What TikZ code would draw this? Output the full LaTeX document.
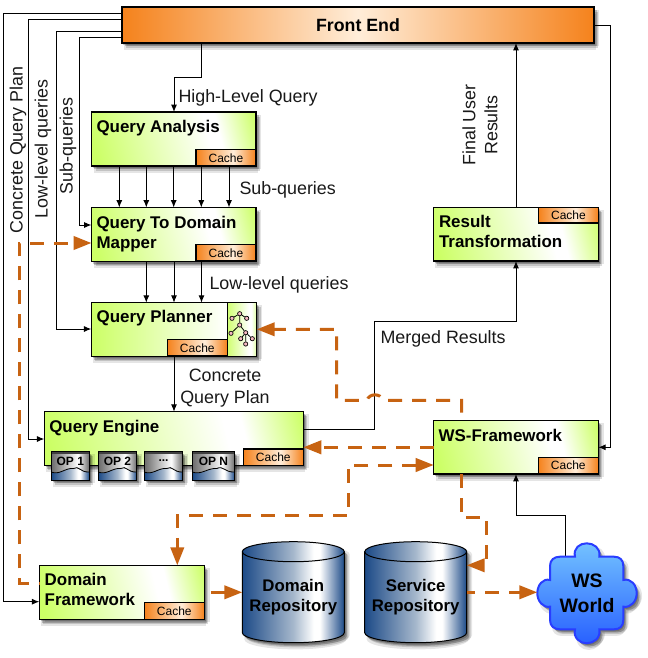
\documentclass[tikz,border=0pt]{standalone}
\usepackage{fontspec}
\setmainfont{Liberation Sans}
\usetikzlibrary{arrows.meta,shadows}

\definecolor{limecol}{rgb}{0.80,1,0.40}
\definecolor{orangecol}{rgb}{0.96,0.51,0.11}
\definecolor{palecol}{rgb}{1,0.93,0.85}
\definecolor{flowcol}{rgb}{0.78,0.39,0.07}
\definecolor{steeldark}{rgb}{0.11,0.29,0.53}
\definecolor{steelmid}{rgb}{0.65,0.72,0.80}
\definecolor{opgrey}{rgb}{0.42,0.42,0.42}
\definecolor{cloudtop}{rgb}{0.45,0.76,1}
\definecolor{cloudbot}{rgb}{0.16,0.38,1}
\definecolor{cloudline}{rgb}{0.16,0.24,1}
\definecolor{treepink}{rgb}{0.96,0.72,0.76}
\newcommand{\opdots}{.{}.{}.}

\pgfdeclarehorizontalshading{limeshade}{100bp}{color(0bp)=(limecol); color(22bp)=(limecol); color(62bp)=(white); color(66bp)=(white); color(80bp)=(limecol); color(100bp)=(limecol)}
\pgfdeclarehorizontalshading{frontshade}{100bp}{color(0bp)=(orangecol); color(25bp)=(orangecol); color(50bp)=(palecol); color(75bp)=(orangecol); color(100bp)=(orangecol)}
\pgfdeclarehorizontalshading{cacheshade}{100bp}{color(0bp)=(orangecol); color(25bp)=(orangecol); color(56bp)=(palecol); color(75bp)=(orangecol); color(100bp)=(orangecol)}
\pgfdeclarehorizontalshading{steelshade}{100bp}{color(0bp)=(steeldark); color(25bp)=(steeldark); color(50bp)=(steelmid); color(60bp)=(white); color(63bp)=(white); color(75bp)=(steeldark); color(100bp)=(steeldark)}
\pgfdeclarehorizontalshading{opshade}{100bp}{color(0bp)=(opgrey); color(25bp)=(opgrey); color(60bp)=(white); color(75bp)=(opgrey); color(100bp)=(opgrey)}

\tikzset{every picture/.style={line width=0.75pt},
  softshadow/.style={
    general shadow={shadow xshift=1pt,shadow yshift=-1.5pt,opacity=0.2,fill=black},
    general shadow={shadow xshift=2pt,shadow yshift=-2.5pt,opacity=0.2,fill=black},
    general shadow={shadow xshift=3pt,shadow yshift=-3.5pt,opacity=0.15,fill=black},
    general shadow={shadow xshift=1.5pt,shadow yshift=-5pt,opacity=0.1,fill=black},
    general shadow={shadow xshift=4pt,shadow yshift=-2pt,opacity=0.1,fill=black}},
  sz/.style 2 args={minimum width=#1*0.75pt,minimum height=#2*0.75pt},
  limebox/.style={draw=black,line width=0.9pt,anchor=north west,inner sep=0pt,outer sep=0pt,shade,shading=limeshade,shading angle=14,softshadow},
  cachebox/.style={draw=black,line width=0.9pt,anchor=north west,inner sep=0pt,outer sep=0pt,shade,shading=cacheshade,font=\fontsize{9}{11}\selectfont,sz={60}{16.5}},
  frontbox/.style={draw=black,line width=0.9pt,anchor=north west,inner sep=0pt,outer sep=0pt,shade,shading=frontshade,font=\fontsize{13.3}{16}\selectfont\bfseries,softshadow},
  titletext/.style={anchor=base west,inner sep=0pt,outer sep=0pt,align=left,font=\fontsize{12.7}{15}\selectfont\bfseries},
  labeltext/.style={inner sep=0pt,align=center,font=\fontsize{13.4}{16.5}\selectfont,text=black!90},
  thinflow/.style={draw=black,line width=0.75pt,-{Latex[length=5.5pt,width=4.5pt]}},
  dashflow/.style={draw=flowcol,line width=2.25pt,dash pattern=on 10.5pt off 7.5pt},
  flowtip/.style={dashflow,-{Triangle[length=13.5pt,width=10pt]}},
  flowboth/.style={dashflow,{Triangle[length=13.5pt,width=10pt]}-{Triangle[length=13.5pt,width=10pt]}},
  repobody/.style={draw=black,line width=0.75pt,shade,shading=steelshade,softshadow},
  repotext/.style={inner sep=0pt,outer sep=0pt,align=center,font=\fontsize{12.6}{15}\selectfont\bfseries,sz={102}{90}},
  opbox/.style={draw=black,line width=0.75pt,anchor=north west,inner sep=0pt,outer sep=0pt,shade,shading=steelshade,softshadow},
  optext/.style={inner sep=0pt,font=\fontsize{9}{11}\selectfont\bfseries},
  treedot/.style={circle,draw=black,line width=0.5pt,fill=treepink,inner sep=0pt,minimum size=3.2pt}
}

\begin{document}
\begin{tikzpicture}[x=0.75pt,y=0.75pt,yscale=-1,xscale=1]
\useasboundingbox (0,0) rectangle (648,658);

%Shape: Front End
\node (front) [frontbox,sz={472}{36}] at (122,7) {Front End};

%Shape: Query Analysis
\node (analysis) [limebox,sz={164.5}{54}] at (91.5,112) {};
\node (analysisC) [cachebox] at (196,149.5) {Cache};
\node (analysisT) [titletext] at (96.5,132.7) {Query Analysis};

%Shape: Query To Domain Mapper
\node (mapper) [limebox,sz={164.5}{54}] at (91.5,207.5) {};
\node (mapperC) [cachebox] at (196,244.5) {Cache};
\node (mapperT) [titletext] at (96.5,248.3) {Query To Domain\\Mapper};

%Shape: Query Planner
\node (planner) [draw=black,line width=0.9pt,anchor=north west,inner sep=0pt,outer sep=0pt,left color=limecol,right color=white,softshadow,sz={136}{53.5}] at (91.3,302.7) {};
\node (plannerP) [limebox,shading angle=0,sz={29.4}{53.5}] at (227.3,302.7) {};
\node (plannerC) [cachebox] at (167.3,339.5) {Cache};
\node (plannerT) [titletext] at (96.7,322.7) {Query Planner};

%Shape: tree icon
\node (leafA) [treedot] at (239.7,313.7) {};
\node (leafB) [treedot] at (232,318.3) {};
\node (leafC) [treedot] at (246.7,318.3) {};
\node (leafD) [treedot] at (239.7,325) {};
\node (leafE) [treedot] at (231,333.3) {};
\node (leafF) [treedot] at (245.7,332.7) {};
\node (leafG) [treedot] at (240.7,338.7) {};
\node (leafH) [treedot] at (252.3,338.7) {};
\node (leafI) [treedot] at (245.7,344) {};
\draw [line width=0.6pt] (leafA) -- (leafB) (leafA) -- (leafC) (leafA) -- (leafD) (leafD) -- (leafE) (leafD) -- (leafF) (leafF) -- (leafG) (leafF) -- (leafH) (leafF) -- (leafI);

%Shape: Query Engine
\node (engine) [limebox,sz={259}{53.5}] at (44.3,411.7) {};
\node (engineC) [cachebox,sz={60}{16.5}] at (243.3,449) {Cache};
\node (engineT) [titletext] at (49.3,432.7) {Query Engine};

%Shape: operator boxes
\foreach \n/\x/\w/\t in {A/51.3/38/OP 1,B/98.3/38.4/OP 2,C/144.3/38.4/\opdots,D/192.3/42.4/OP N}{
  \node (op\n) [opbox,sz={\w}{28.3}] at (\x,451.7) {};
  \fill [shading=opshade,shade] (\x,452.5) -- ++(\w,0) -- ++(0,19.5) .. controls +(-0.25*\w,0.5) and +(0.15*\w,-3) .. ++(-0.42*\w,-3.5) .. controls +(-0.2*\w,-1) and +(0.2*\w,3.5) .. (\x,472) -- cycle;
  \draw [line width=0.6pt] (\x+\w,472) .. controls +(-0.25*\w,0.5) and +(0.15*\w,-3.5) .. (\x+0.58*\w,468.5) .. controls +(-0.2*\w,-1) and +(0.2*\w,3.5) .. (\x,472);
  \fill [black!75] (\x,451.7) rectangle (\x+\w,454);
  \node (opT\n) [optext] at (\x+0.5*\w,461) {\t};
  \draw [line width=0.75pt] (op\n.north west) rectangle (op\n.south east);
}

%Shape: WS-Framework
\node (wsf) [limebox,sz={164.6}{53.3}] at (433.7,420.7) {};
\node (wsfC) [cachebox] at (538.3,457.4) {Cache};
\node (wsfT) [titletext] at (438.7,441.7) {WS-Framework};

%Shape: Result Transformation
\node (result) [limebox,sz={165}{53.7}] at (433.3,207.3) {};
\node (resultC) [cachebox,sz={59.6}{15.7}] at (538.7,207.3) {Cache};
\node (resultT) [titletext] at (439,247.7) {Result\\Transformation};

%Shape: Domain Framework
\node (domain) [limebox,sz={165}{54}] at (39.3,565.3) {};
\node (domainC) [cachebox] at (144.3,602.6) {Cache};
\node (domainT) [titletext] at (44.7,605.5) {Domain\\Framework};

%Shape: Repositories
\path [repobody] (242.3,551.7) arc[start angle=180,end angle=360,x radius=51,y radius=10] -- (344.3,632.7) arc[start angle=0,end angle=180,x radius=51,y radius=10] -- cycle;
\draw (242.3,551.7) arc[start angle=180,end angle=0,x radius=51,y radius=10];
\node (drepo) [repotext] at (293.3,597) {Domain\\Repository};
\path [repobody] (364.7,551.7) arc[start angle=180,end angle=360,x radius=51,y radius=10] -- (466.7,632.7) arc[start angle=0,end angle=180,x radius=51,y radius=10] -- cycle;
\draw (364.7,551.7) arc[start angle=180,end angle=0,x radius=51,y radius=10];
\node (srepo) [repotext] at (415.7,597) {Service\\Repository};

%Straight Lines: up from the cloud, below the cloud
\coordinate (worldtop) at (565.7,556.7);
\draw [thinflow] (worldtop) |- (516,515.3) -- (wsf.south -| 516,0);

%Shape: Cloud
\draw [draw=cloudline,line width=1.5pt,top color=cloudtop,bottom color=cloudbot,softshadow]
  (575,556.7) .. controls (573,548) and (580,543.3) .. (586.7,543.3) .. controls (593.5,543.3) and (601,548) .. (599.3,556.7)
  -- (614,556.7) .. controls (620,556.7) and (623.3,560) .. (623.3,566) -- (623.3,580)
  .. controls (631,578) and (636.7,585) .. (636.7,593.3) .. controls (636.7,601) and (631,608) .. (623.3,606.7)
  -- (623.3,620) .. controls (623.3,626) and (620,629.3) .. (614,629.3) -- (599.3,629.3)
  .. controls (601,638) and (593.5,643.3) .. (586.7,643.3) .. controls (580,643.3) and (573,638) .. (575,629.3)
  -- (560,629.3) .. controls (554,629.3) and (550,626) .. (550,620) -- (550,606.7)
  .. controls (543,608) and (537.3,601) .. (537.3,593.3) .. controls (537.3,585) and (543,578) .. (550,580)
  -- (550,566) .. controls (550,560) and (554,556.7) .. (560,556.7) -- cycle;
\node (world) [inner sep=0pt,outer sep=0pt,align=center,sz={99.4}{100},font=\fontsize{14.6}{18.75}\selectfont\bfseries] at (587,593.3) {WS\\World};

%Straight Lines
\draw [thinflow] (front.south -| 201.3,0) |- (174,77.3) -- (analysis.north -| 174,0);
\foreach \x in {119.3,146.3,173.7,201.3,229}{
  \draw [thinflow] (analysis.south -| \x,0) -- (mapper.north -| \x,0);
}
\foreach \x in {146.3,174,201.5}{
  \draw [thinflow] (mapper.south -| \x,0) -- (planner.north -| \x,0);
}
\draw [thinflow] (planner.south -| 174,0) -- (engine.north -| 174,0);
\draw [thinflow] (front.west |- 0,13.7) -| (3.3,601.7) -- (domain.west |- 0,601.7);
\draw [thinflow] (front.west |- 0,19.7) -| (28.3,439) -- (engine.west |- 0,439);
\draw [thinflow] (front.west |- 0,31.7) -| (56.3,329) -- (planner.west |- 0,329);
\draw [thinflow] (front.west |- 0,37.3) -| (79.3,225) -- (mapper.west |- 0,225);
\draw [thinflow] (result.north -| 516,0) -- (front.south -| 516,0);
\draw [thinflow] (engine.east |- 0,429.3) -| (374.3,321.7) -| (result.south -| 516,0);
\draw [thinflow] (front.east |- 0,25.3) -| (610.3,447.3) -- (wsf.east |- 0,447.3);

%Dashed Lines
\draw [flowtip,dash phase=10pt] (domain.west |- 0,583) -| (19.3,243) -- (mapper.west |- 0,243);
\draw [flowtip,dash phase=12pt] (wsf.north -| 461.7,0) |- (383,400.3) .. controls (381,393) and (369,393) .. (367,400.3) -| (336.7,329.3) -- (plannerP.east |- 0,329.3);
\draw [flowtip] (wsf.west |- 0,447.3) -- (engine.east |- 0,447.3);
\draw [flowboth] (wsf.west |- 0,465) -| (348.3,515.3) -| (domain.north -| 177.3,0);
\draw [flowtip] (wsf.south -| 461.7,0) |- (486.3,517.3) |- (srepo.east |- 0,565.3);
\draw [flowtip,dash phase=13pt] (domain.east |- 0,592.3) -- (drepo.west |- 0,592.3);
\draw [flowtip,dash phase=4pt] (srepo.east |- 0,592.3) -- (world.west |- 0,592.3);

%Text labels
\node (highL) [labeltext,anchor=west] at (178,97.5) {High-Level Query};
\node (subL) [labeltext,anchor=west] at (239,189.5) {Sub-queries};
\node (lowL) [labeltext,anchor=west] at (209,284.5) {Low-level queries};
\node (planL) [labeltext] at (225,388.5) {Concrete\\Query Plan};
\node (mergedL) [labeltext,anchor=west] at (380,338.5) {Merged Results};
\node (planR) [labeltext,rotate=90] at (18,150) {Concrete Query Plan};
\node (lowR) [labeltext,rotate=90] at (43,149) {Low-level queries};
\node (subR) [labeltext,rotate=90] at (68,146) {Sub-queries};
\node (finalR) [labeltext,rotate=90] at (480,125) {Final User\\Results};
\end{tikzpicture}
\end{document}
